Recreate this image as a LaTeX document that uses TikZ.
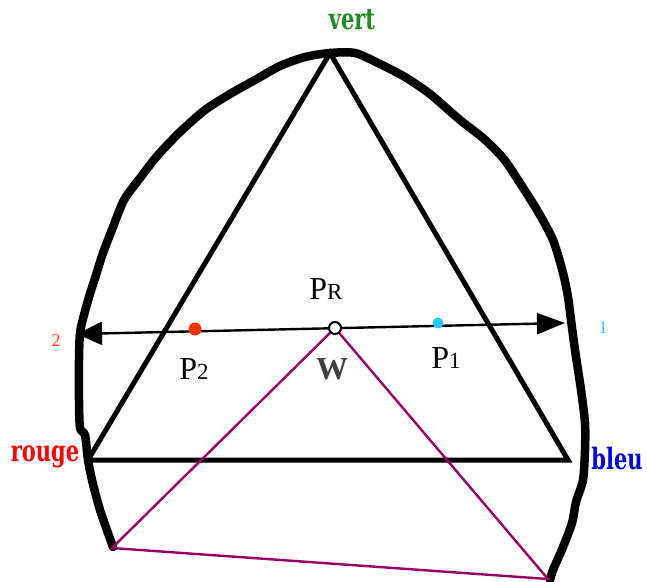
\documentclass[tikz,border=0pt]{standalone}
\usepackage{fontspec}
\setmainfont{Liberation Serif}
\newfontfamily\pixfont{DejaVu Serif}
\usetikzlibrary{arrows.meta}
\definecolor{vertc}{RGB}{30,140,30}
\definecolor{rougec}{RGB}{255,0,0}
\definecolor{bleuc}{RGB}{0,0,230}
\definecolor{deuxc}{RGB}{255,64,32}
\definecolor{unc}{RGB}{51,200,255}
\definecolor{ptwo}{RGB}{255,51,0}
\definecolor{pone}{RGB}{34,204,245}
\definecolor{purp}{RGB}{153,0,102}
\tikzset{
  outline/.style={line width=8.5pt,line join=round,line cap=round},
  tri/.style={line width=5pt,line join=miter},
  axis/.style={line width=2.4pt,{Triangle[length=25pt,width=23pt]}-{Triangle[length=28pt,width=21pt]}},
  purpline/.style={line width=2.4pt,draw=purp},
  colorlbl/.style={inner sep=0pt,font=\pixfont\bfseries\fontsize{21}{21}\selectfont},
  smalllbl/.style={inner sep=0pt,font=\fontsize{18}{18}\selectfont},
  ptlbl/.style={inner sep=0pt},
  wlbl/.style={fill=white,font=\bfseries\fontsize{32}{32}\selectfont,text=black!75,inner sep=0pt},
  dot/.style={circle,inner sep=0pt,minimum size=13pt}
}
\begin{document}
\begin{tikzpicture}[x=1pt,y=-1pt]
\useasboundingbox (0,0) rectangle (647,581);
% outline curve
\draw[outline] plot[smooth,tension=0.45] coordinates {
 (113,547) (100,510) (92,480) (88,460) (85,435) (80,428) (79,400) (79,360) (80,333)
 (84,315) (89,297) (96,275) (103,253) (113,227) (124,200) (140,178) (158,155)
 (180,132) (205,110) (230,94) (255,80) (280,66) (305,57) (330,53) (355,53)
 (380,64) (405,77) (430,94) (460,120) (483,138) (503,158) (518,180) (537,210)
 (553,240) (563,273) (568,297) (571,320) (575,350) (581,390) (585,423) (585,450)
 (583,480) (576,502) (572,523) (563,547) (553,570) (550,580)};
% triangle vertices
\coordinate (V) at (330,53);
\coordinate (R) at (88,460);
\coordinate (B) at (568,460);
\draw[tri] (V) -- (R) -- (B) -- cycle;
% purple triangle
\coordinate (Q1) at (112,548);
\coordinate (Q2) at (548,579);
\coordinate (PRc) at (335,328);
\draw[purpline] (PRc) -- (Q1) -- (Q2) -- (PRc);
\node[wlbl] (W) at (332,369) {W};
% axis
\coordinate (A2) at (77,334);
\coordinate (A1) at (565,323);
\draw[axis] (A2) -- (A1);
% points
\node[dot,fill=ptwo] (P2) at (195,329) {};
\node[dot,fill=pone,minimum size=11pt] (P1) at (438,323) {};
\node[circle,draw=black,fill=white,line width=2pt,minimum size=12pt,inner sep=0pt] (PR) at (335,328) {};
% labels
\node[colorlbl,text=vertc] (lv) at (352,20) {\scalebox{1}[1.4]{vert}};
\node[colorlbl,text=rougec] (lr) at (45,457) {\scalebox{1}[1.4]{rouge}};
\node[colorlbl,text=bleuc] (lb) at (617,459) {\scalebox{1}[1.4]{bleu}};
\node[smalllbl,text=deuxc] (l2) at (56,341) {2};
\node[smalllbl,text=unc] (l1) at (603,328) {1};
\node[ptlbl,anchor=base] (lPR) at (326,299) {\fontsize{32}{32}\selectfont P\fontsize{23}{23}\selectfont R};
\node[ptlbl,anchor=base] (lP2) at (194,379) {\fontsize{32}{32}\selectfont P\fontsize{23}{23}\selectfont 2};
\node[ptlbl,anchor=base] (lP1) at (446,368) {\fontsize{32}{32}\selectfont P\fontsize{23}{23}\selectfont 1};
\end{tikzpicture}
\end{document}
